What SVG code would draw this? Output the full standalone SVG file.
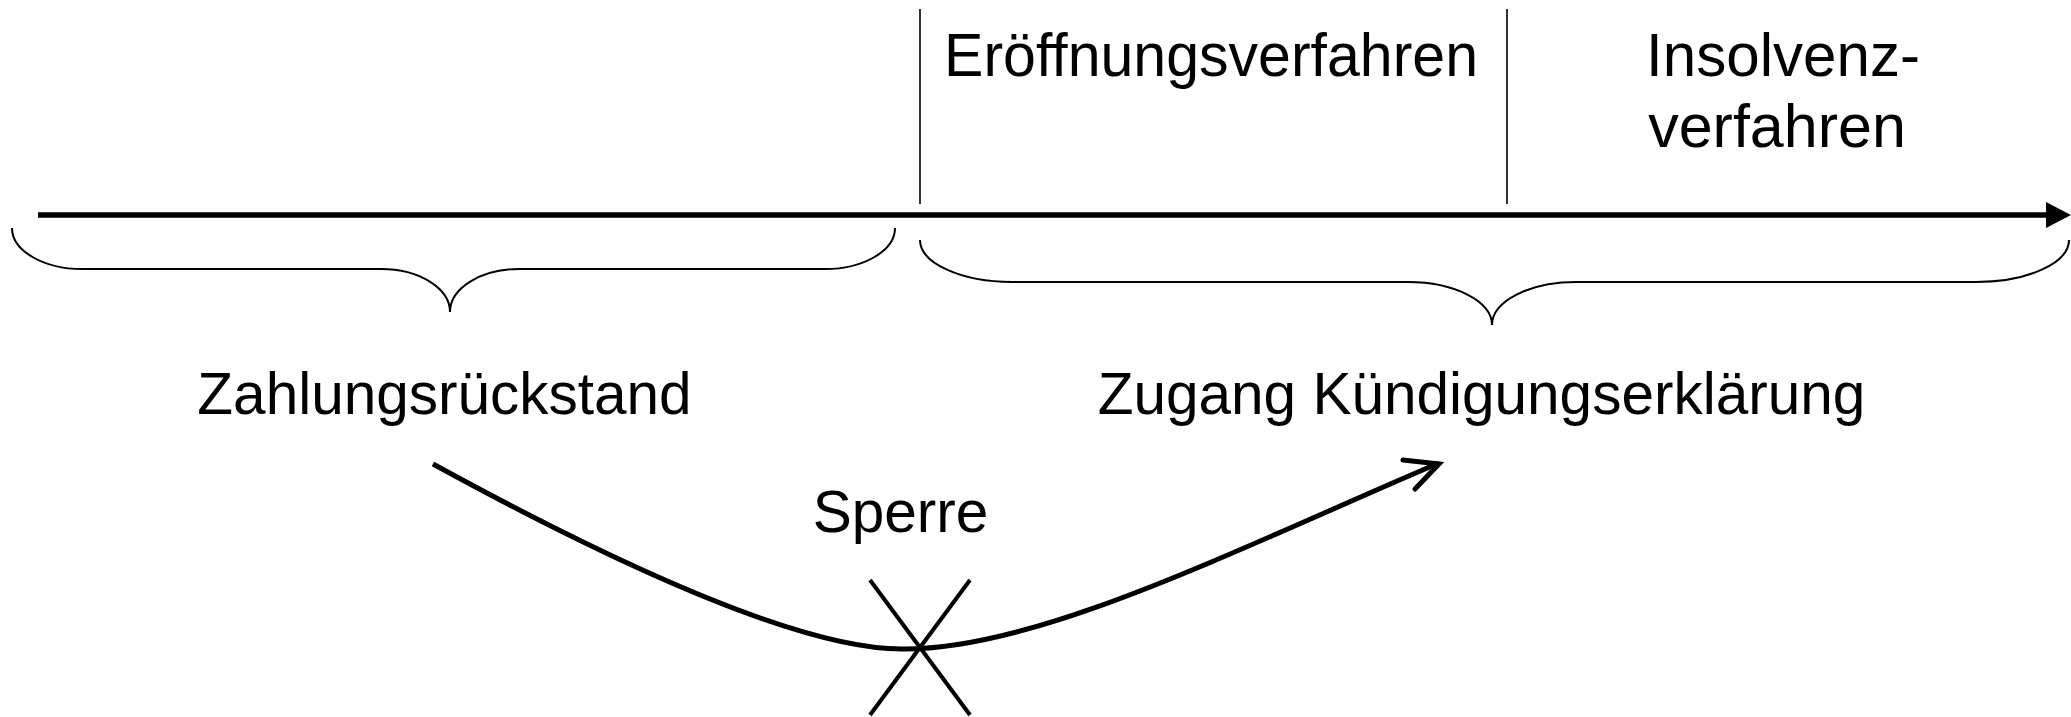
<svg xmlns="http://www.w3.org/2000/svg" width="2071" height="717" viewBox="0 0 2071 717">
  <style>
    .lbl { font-family: "Liberation Sans", Arial, sans-serif; fill: #000; }
    .top { font-size: 61px; }
    .bot { font-size: 58.5px; }
    .thin { stroke: #000; stroke-width: 1.6; fill: none; }
    .brace { stroke: #000; stroke-width: 2; fill: none; }
    .thick { stroke: #000; stroke-width: 5; fill: none; }
    .cross { stroke: #000; stroke-width: 4; fill: none; }
  </style>
  <rect width="2071" height="717" fill="#fff"/>

  <g id="timeline">
    <line x1="38" y1="215" x2="2050" y2="215" stroke="#000" stroke-width="5.5"/>
    <polygon points="2046,202 2071,215 2046,228" fill="#000"/>
    <line class="thin" x1="920" y1="9" x2="920" y2="204"/>
    <line class="thin" x1="1507" y1="9" x2="1507" y2="204"/>
  </g>

  <g id="phase-eroeffnung">
    <text class="lbl top" x="1211" y="76" text-anchor="middle" textLength="534" lengthAdjust="spacingAndGlyphs">Eröffnungsverfahren</text>
  </g>

  <g id="phase-insolvenz">
    <text class="lbl top" x="1783" y="76" text-anchor="middle" textLength="274" lengthAdjust="spacingAndGlyphs">Insolvenz-</text>
    <text class="lbl top" x="1777" y="147" text-anchor="middle">verfahren</text>
  </g>

  <g id="brace-left">
    <path class="brace" d="M12,228 A70,41 0 0 0 82,269 L381,269 A69,43 0 0 1 450,312 A69,43 0 0 1 519,269 L825,269 A70,41 0 0 0 895,228"/>
  </g>

  <g id="brace-right">
    <path class="brace" d="M920,240 A92,42 0 0 0 1012,282 L1408,282 A84,43 0 0 1 1492,325 A84,43 0 0 1 1576,282 L1976,282 A93,42 0 0 0 2069,240"/>
  </g>

  <g id="zahlungsrueckstand">
    <text class="lbl bot" x="444.5" y="414" text-anchor="middle">Zahlungsrückstand</text>
  </g>

  <g id="zugang">
    <text class="lbl bot" x="1481.5" y="414" text-anchor="middle">Zugang Kündigungserklärung</text>
  </g>

  <g id="sperre">
    <text class="lbl bot" x="900.5" y="532" text-anchor="middle">Sperre</text>
    <line class="cross" x1="870" y1="580" x2="970" y2="715"/>
    <line class="cross" x1="970" y1="580" x2="870" y2="715"/>
  </g>

  <g id="connectors">
    <path class="thick" d="M433,464 Q775,651 905,649 C1040,649 1237,549 1439,463"/>
    <polyline class="thick" points="1403,460 1439,464 1415,489" stroke-linecap="round" stroke-linejoin="miter"/>
  </g>
</svg>
